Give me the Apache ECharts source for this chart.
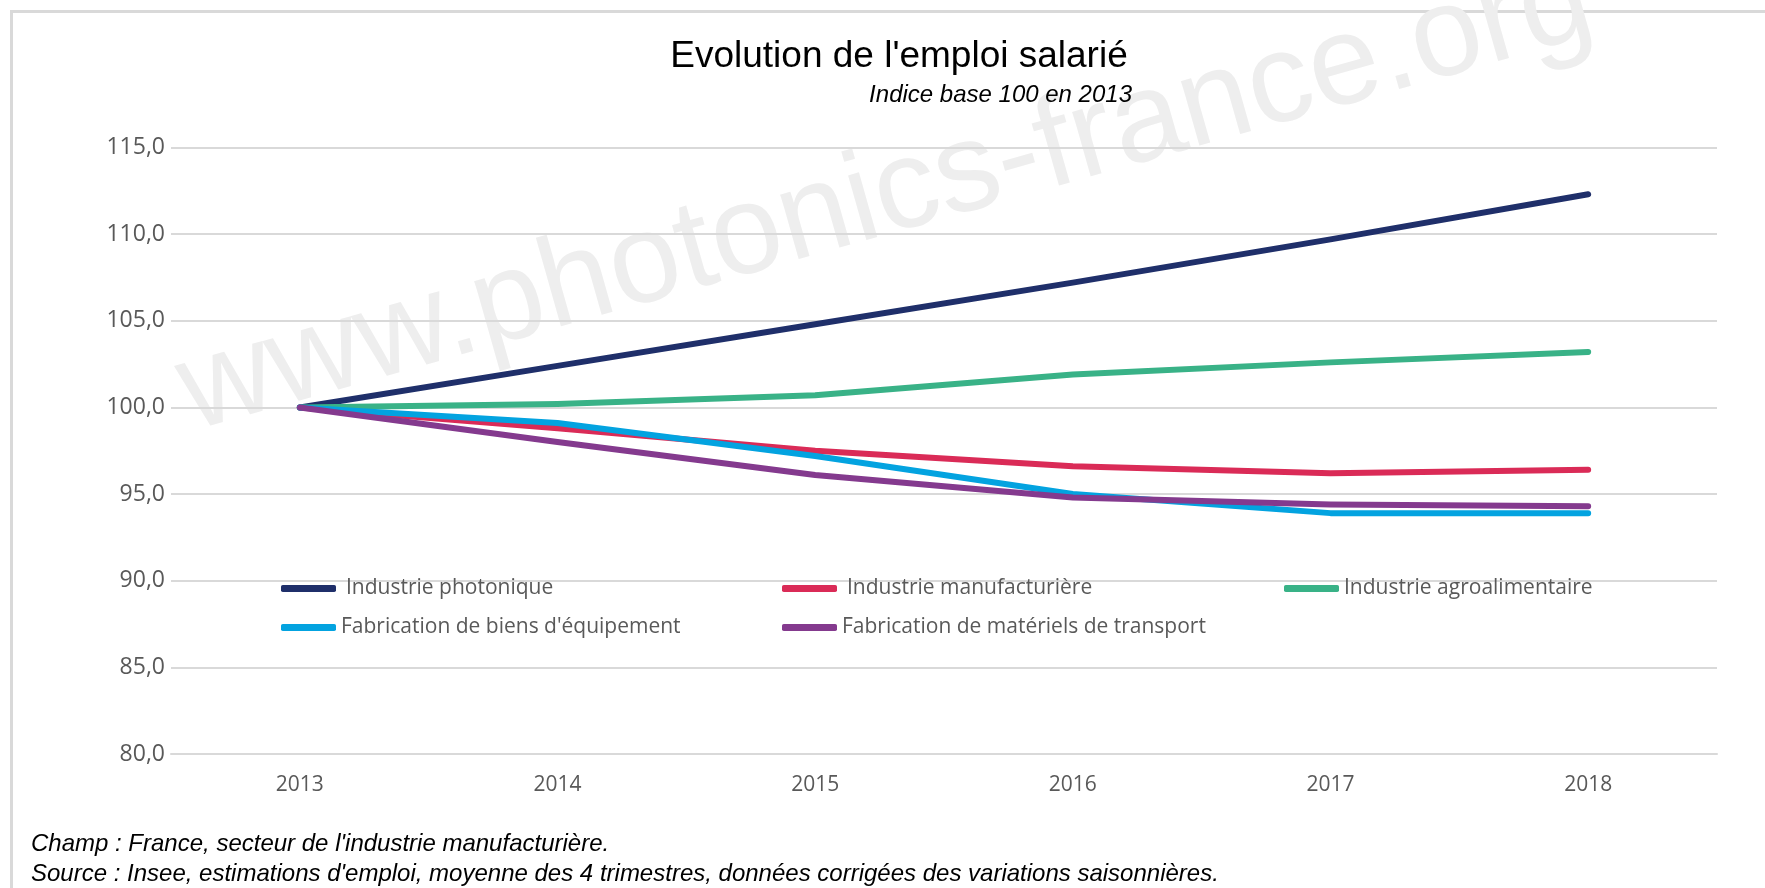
<!DOCTYPE html>
<html>
<head>
<meta charset="utf-8">
<script src="https://cdn.jsdelivr.net/npm/echarts@6/dist/echarts.min.js"></script>
<style>
  html, body { margin: 0; padding: 0; background: #fff; }
  #chart { width: 1765px; height: 888px; }
</style>
</head>
<body>
<div id="chart"></div>
<script>
// données (indice base 100 en 2013)
const years = ['2013', '2014', '2015', '2016', '2017', '2018']
const photonique = [100, 102.4, 104.8, 107.2, 109.7, 112.3]
const manufacturiere = [100, 98.8, 97.5, 96.6, 96.2, 96.4]
const agroalimentaire = [100, 100.2, 100.7, 101.9, 102.6, 103.2]
const biensEquipement = [100, 99.1, 97.2, 95.0, 93.9, 93.9]
const transport = [100, 98.0, 96.1, 94.8, 94.4, 94.3]

const names = [
  'Industrie photonique',
  'Industrie manufacturière',
  'Industrie agroalimentaire',
  "Fabrication de biens d'équipement",
  'Fabrication de matériels de transport'
]
const colors = ['#1f2f6a', '#da2b57', '#39b287', '#03a3e0', '#843a8e']
const values = [photonique, manufacturiere, agroalimentaire, biensEquipement, transport]

const labelColor = '#595959'
const font = '"Open Sans", "Noto Sans", sans-serif'

// une légende par entrée pour placer les 3 colonnes comme dans l'original
const legendPos = [
  { left: 281, top: 578, pad: 5 },
  { left: 782, top: 578, pad: 5 },
  { left: 1284, top: 578, pad: 0 },
  { left: 281, top: 617, pad: 0 },
  { left: 782, top: 617, pad: 0 }
]

const chart = echarts.init(document.getElementById('chart'))

const option = {
  animation: false,
  backgroundColor: '#fff',
  title: [
    {
      text: "Evolution de l'emploi salarié",
      left: 894,
      top: 33,
      textAlign: 'center',
      textStyle: { fontFamily: 'Liberation Sans, Arial', fontWeight: 'normal', fontSize: 37, color: '#000' }
    },
    {
      text: 'Indice base 100 en 2013',
      left: 1127,
      top: 78,
      textAlign: 'right',
      textStyle: { fontFamily: 'Liberation Sans, Arial', fontStyle: 'italic', fontWeight: 'normal', fontSize: 24, color: '#000' }
    },
    {
      text: "Champ : France, secteur de l'industrie manufacturière.",
      left: 26,
      top: 827,
      textStyle: { fontFamily: 'Liberation Sans, Arial', fontStyle: 'italic', fontWeight: 'normal', fontSize: 24, color: '#000' }
    },
    {
      text: "Source : Insee, estimations d'emploi, moyenne des 4 trimestres, données corrigées des variations saisonnières.",
      left: 26,
      top: 857,
      textStyle: { fontFamily: 'Liberation Sans, Arial', fontStyle: 'italic', fontWeight: 'normal', fontSize: 24, color: '#000' }
    }
  ],
  legend: names.map((n, i) => ({
    data: [n],
    left: legendPos[i].left,
    top: legendPos[i].top,
    padding: 0,
    icon: 'roundRect',
    itemWidth: 55,
    itemHeight: 7,
    textStyle: {
      color: labelColor,
      fontSize: 21,
      fontFamily: font,
      padding: [0, 0, 0, legendPos[i].pad]
    }
  })),
  graphic: [
    {
      type: 'rect',
      z: -10,
      shape: { x: 11.5, y: 11.5, width: 2000, height: 2000 },
      style: { fill: 'none', stroke: '#d9d9d9', lineWidth: 3 }
    },
    {
      type: 'text',
      z: -5,
      x: 886,
      y: 198,
      rotation: 15.8 * Math.PI / 180,
      style: {
        text: 'www.photonics-france.org',
        x: 0,
        y: 0,
        align: 'center',
        verticalAlign: 'middle',
        font: '127px "Liberation Sans", Arial, sans-serif',
        fill: '#eeeeee'
      }
    }
  ],
  grid: {
    left: 171,
    right: 48,
    top: 147.5,
    bottom: 134
  },
  xAxis: {
    type: 'category',
    data: years,
    boundaryGap: true,
    axisTick: { show: false },
    axisLine: { lineStyle: { color: '#d9d9d9', width: 2 } },
    axisLabel: { color: labelColor, fontSize: 21, fontFamily: font, margin: 21 }
  },
  yAxis: {
    type: 'value',
    min: 80,
    max: 115,
    interval: 5,
    axisLine: { show: false },
    axisTick: { show: false },
    splitLine: { lineStyle: { color: '#d9d9d9', width: 2 } },
    axisLabel: {
      color: labelColor,
      fontSize: 23,
      fontFamily: font,
      margin: 6,
      formatter: v => v.toFixed(1).replace('.', ',')
    }
  },
  series: names.map((n, i) => ({
    name: n,
    type: 'line',
    data: values[i],
    symbol: 'none',
    color: colors[i],
    lineStyle: { width: 6, color: colors[i], cap: 'round', join: 'round' }
  }))
}

chart.setOption(option)
</script>
</body>
</html>
